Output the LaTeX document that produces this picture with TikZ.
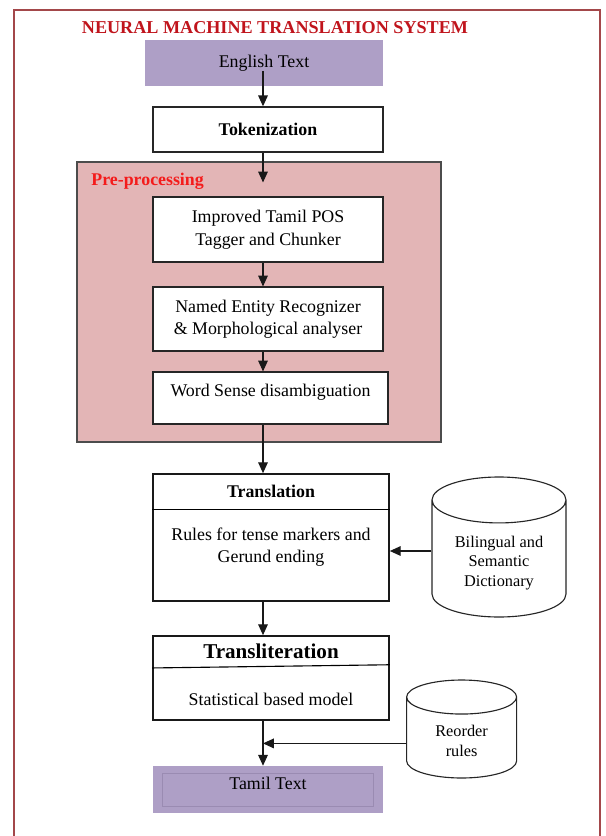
\documentclass[tikz,border=0pt]{standalone}
\usepackage{fontspec}
\setmainfont{Liberation Serif}
\usetikzlibrary{
  arrows.meta,
  positioning,
  shapes.geometric,
  calc,
}
\definecolor{frameRed}{HTML}{A3474A}
\definecolor{titleRed}{HTML}{C0141C}
\definecolor{labelRed}{HTML}{F41B1B}
\definecolor{lavender}{HTML}{AE9FC6}
\definecolor{lavenderLine}{HTML}{9A8BB2}
\definecolor{preBg}{HTML}{E3B5B6}
\tikzset{
  stepbox/.style={
    rectangle, draw=black!85, line width=0.8pt, fill=white,
    align=center, font=\fontsize{12.7}{16}\selectfont,
    minimum width=5.75cm,
  },
  endbox/.style={
    rectangle, draw=none, fill=lavender, align=center,
    font=\fontsize{12.7}{16}\selectfont,
  },
  stagebox/.style={
    rectangle, draw=black!90, line width=1.2pt, fill=white,
    minimum width=5.9cm,
  },
  store/.style={
    cylinder, shape border rotate=90, aspect=#1, anchor=shape center,
    draw=black!85, line width=0.8pt, fill=white, align=center,
    font=\fontsize{11.6}{14}\selectfont,
  },
  bodytext/.style={font=\fontsize{12.7}{16}\selectfont, align=center},
  headtext/.style={font=\fontsize{12.7}{16}\selectfont\bfseries},
  arrowMain/.style={
    -{Triangle[length=2.7mm,width=2.4mm]}, line width=0.75pt, draw=black!90,
  },
}

\begin{document}
\begin{tikzpicture}

\useasboundingbox (0,0) rectangle (15.125,-20.9);
\draw[frameRed, line width=1.2pt] (0.35,-21.5) rectangle (15.0,-0.25);

\node[font=\fontsize{12.9}{15}\selectfont\bfseries, text=titleRed] (title) at (6.875,-0.7)
  {NEURAL MACHINE TRANSLATION SYSTEM};

\coordinate (axis) at (6.575,0);

\node[endbox, minimum width=5.95cm, minimum height=1.15cm] (eng) at (6.6,-1.575) {English Text};
\node[stepbox, minimum height=1.125cm, line width=1pt, font=\fontsize{12.7}{16}\selectfont\bfseries]
  (tok) at (6.7,-3.2375) {Tokenization};

% pre-processing block
\node[rectangle, draw=black!70, line width=0.8pt, fill=preBg,
      minimum width=9.1cm, minimum height=7cm] (pre) at (6.475,-7.55) {};
\node[font=\fontsize{12.7}{16}\selectfont\bfseries, text=labelRed, anchor=west]
  (preLabel) at ($(pre.north west)+(0.25,-0.5)$) {Pre-processing};

\node[stepbox, minimum height=1.625cm] (pos) at (6.7,-5.7375)
  {Improved Tamil POS\\Tagger and Chunker};
\node[stepbox, minimum height=1.6cm] (ner) at (6.7,-7.975)
  {Named Entity Recognizer\\\& Morphological analyser};
\node[stepbox, minimum width=5.875cm, minimum height=1.3cm, text depth=0.4cm]
  (wsd) at (6.7625,-9.95) {Word Sense disambiguation};

% translation
\node[stagebox, minimum height=3.175cm] (trans) at (6.775,-13.4375) {};
\draw[line width=0.8pt] ($(trans.north west)+(0,-0.9)$) -- ($(trans.north east)+(0,-0.9)$);
\node[headtext] (transHead) at ($(trans.north)+(0,-0.45)$) {Translation};
\node[bodytext] (transBody) at ($(trans.north)+(0,-1.85)$)
  {Rules for tense markers and\\Gerund ending};

\node[store=0.47, minimum width=3.35cm, minimum height=3.5cm] (dict) at (12.475,-13.675)
  {Bilingual and\\Semantic\\Dictionary};

% transliteration
\node[stagebox, minimum height=2.1cm] (translit) at (6.775,-16.95) {};
\draw[line width=0.8pt] ($(translit.north west)+(0,-0.82)$) -- ($(translit.north east)+(0,-0.74)$);
\node[font=\fontsize{15}{18}\selectfont\bfseries] (translitHead) at ($(translit.north)+(0,-0.4)$)
  {Transliteration};
\node[bodytext] (translitBody) at ($(translit.north)+(0,-1.6)$) {Statistical based model};

\node[store=0.55, minimum width=2.75cm, minimum height=2.45cm] (reorder) at (11.54,-18.225)
  {Reorder\\rules};

\node[endbox, minimum width=5.75cm, minimum height=1.175cm, text depth=0.3cm]
  (tamil) at (6.7,-19.7375) {Tamil Text};
\draw[lavenderLine, line width=0.4pt] ($(tamil.south west)+(0.25,0.18)$)
  rectangle ($(tamil.north east)+(-0.25,-0.18)$);

% connectors
\draw[arrowMain] ([yshift=-0.2cm]axis |- eng.center) -- (axis |- tok.north);
\draw[arrowMain] (axis |- tok.south) -- ([yshift=0.35cm]axis |- pos.north);
\draw[arrowMain] (axis |- pos.south) -- (axis |- ner.north);
\draw[arrowMain] (axis |- ner.south) -- (axis |- wsd.north);
\draw[arrowMain] (axis |- wsd.south) -- (axis |- trans.north);
\draw[arrowMain] (axis |- trans.south) -- (axis |- translit.north);
\draw[arrowMain] (axis |- translit.south) -- (axis |- tamil.north);
\draw[arrowMain] ([yshift=-0.1cm]dict.shape center -| dict.west)
  -- ([yshift=-0.1cm]dict.shape center -| trans.east);
\draw[arrowMain] ([yshift=-0.36cm]reorder.shape center -| reorder.west)
  -- ([yshift=-0.36cm]reorder.shape center -| axis);

\end{tikzpicture}
\end{document}
